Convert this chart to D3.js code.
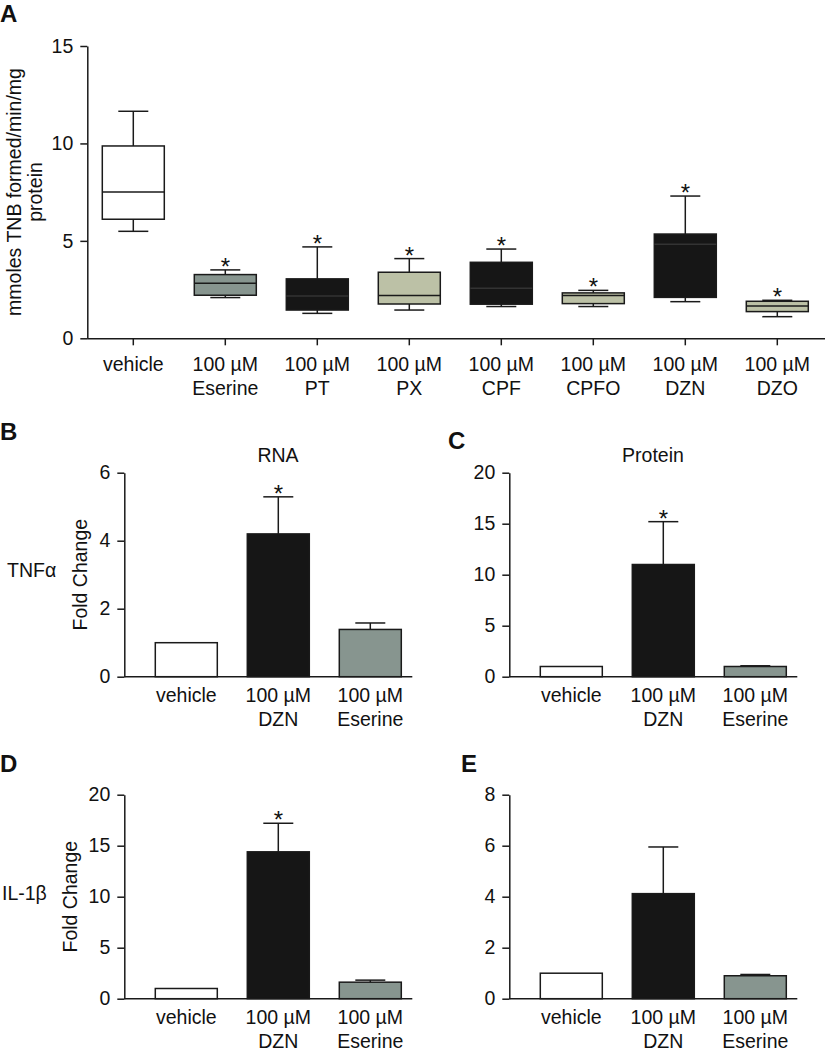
<!DOCTYPE html>
<meta charset="utf-8">
<html>
<head>
  <title>Esterase activity and cytokine fold change</title>
  <script src="https://d3js.org/d3.v7.min.js"></script>
  <style>
    body{margin:0;background:#fff;}
    text{font-family:"Liberation Sans",Arial,sans-serif;fill:#111;}
  </style>
</head>
<body>
<div id="chart"></div>
<script>
  var width=827, height=1052;

  // Panel A - box plots
  var boxGroups=["vehicle","Eserine","PT","PX","CPF","CPFO","DZN","DZO"];
  var boxMin   =[5.49,2.09,1.28,1.45,1.63,1.63,1.88,1.11];
  var boxQ1    =[6.11,2.21,1.45,1.76,1.75,1.78,2.10,1.37];
  var boxMedian=[7.51,2.82,2.17,2.19,2.57,2.19,4.82,1.66];
  var boxQ3    =[9.87,3.27,3.05,3.39,3.90,2.33,5.35,1.90];
  var boxMax   =[11.65,3.51,4.69,4.09,4.58,2.46,7.30,1.95];
  var boxSig   =[false,true,true,true,true,true,true,true];
  var boxTicks =[0,5,10,15];

  // Panels B-E - bar charts
  var barGroups=["vehicle","DZN","Eserine"];
  var tnfRnaMean=[1.0,4.2,1.39],   tnfRnaSem=[0,1.09,0.19],  tnfRnaSig=[false,true,false];
  var tnfProtMean=[1.0,11.0,1.0],  tnfProtSem=[0,4.2,0.07],  tnfProtSig=[false,true,false];
  var il1RnaMean=[1.0,14.4,1.62],  il1RnaSem=[0,2.8,0.2],    il1RnaSig=[false,true,false];
  var il1ProtMean=[1.0,4.12,0.9],  il1ProtSem=[0,1.83,0.05], il1ProtSig=[false,false,false];

  var white="#ffffff", gray="#87958f", beige="#bcc1a6", black="#161616";
  var fillOf={vehicle:white,Eserine:gray,PT:black,PX:beige,CPF:black,CPFO:beige,DZN:black,DZO:beige};
  var lineCol="#1a1a1a";

  var svg=d3.select("#chart").append("svg")
      .attr("width",width).attr("height",height);

  function panelLetter(t,x,y){
    svg.append("text").text(t).attr("x",x).attr("y",y)
      .style("font-size","24px").style("font-weight","bold");
  }
  function star(g,x,yTop){
    g.append("text").text("*").attr("x",x).attr("y",yTop+5)
      .attr("text-anchor","middle").style("font-size","24px");
  }
  function styleAxis(g){
    g.selectAll("path,line").attr("stroke",lineCol).attr("stroke-width",1.5);
    g.selectAll("text").style("font-size","19.5px").attr("fill","#111");
  }
  function groupLabel(g,x,y1,name){
    var t=g.append("text").attr("text-anchor","middle").style("font-size","19.5px");
    if(name=="vehicle"){
      t.append("tspan").attr("x",x).attr("y",y1).text("vehicle");
    }else{
      t.append("tspan").attr("x",x).attr("y",y1).text("100 \u00b5M");
      t.append("tspan").attr("x",x).attr("y",y1+24.5).text(name);
    }
  }

  // ---------- Panel A ----------
  panelLetter("A",0,22);
  var gA=svg.append("g");
  var yA=d3.scaleLinear().domain([0,15]).range([338.3,46]);
  var xA=d3.scaleBand().domain(boxGroups).range([87.3,823.3]);
  var boxW=62, capW=30;

  var axA=gA.append("g").attr("transform","translate(87.3,0)")
    .call(d3.axisLeft(yA).tickValues(boxTicks).tickSize(7).tickSizeOuter(0).tickPadding(7).tickFormat(d3.format("d")));
  styleAxis(axA);
  var axAx=gA.append("g").attr("transform","translate(0,338.3)")
    .call(d3.axisBottom(xA).tickSize(7).tickSizeOuter(0).tickFormat(""));
  styleAxis(axAx);
  axAx.select(".domain").attr("d","M87.3,0.5H825");

  boxGroups.forEach(function(name,i){
    var cx=xA(name)+xA.bandwidth()/2;
    var box=gA.append("g");
    box.append("line").attr("x1",cx).attr("x2",cx).attr("y1",yA(boxMax[i])).attr("y2",yA(boxQ3[i]));
    box.append("line").attr("x1",cx).attr("x2",cx).attr("y1",yA(boxMin[i])).attr("y2",yA(boxQ1[i]));
    box.append("line").attr("x1",cx-capW/2).attr("x2",cx+capW/2).attr("y1",yA(boxMax[i])).attr("y2",yA(boxMax[i]));
    box.append("line").attr("x1",cx-capW/2).attr("x2",cx+capW/2).attr("y1",yA(boxMin[i])).attr("y2",yA(boxMin[i]));
    box.selectAll("line").attr("stroke",lineCol).attr("stroke-width",1.5);
    box.append("rect").attr("x",cx-boxW/2).attr("width",boxW)
      .attr("y",yA(boxQ3[i])).attr("height",yA(boxQ1[i])-yA(boxQ3[i]))
      .attr("fill",fillOf[name]).attr("stroke",lineCol).attr("stroke-width",1.5);
    box.append("line").attr("x1",cx-boxW/2).attr("x2",cx+boxW/2)
      .attr("y1",yA(boxMedian[i])).attr("y2",yA(boxMedian[i]))
      .attr("stroke",fillOf[name]==black?"#333":lineCol).attr("stroke-width",1.5);
    if(boxSig[i]) star(gA,cx,yA(boxMax[i]));
    groupLabel(gA,cx,370.7,name);
  });

  gA.append("text").attr("transform","translate(21,192) rotate(-90)")
    .attr("text-anchor","middle").style("font-size","19.5px").text("mmoles TNB formed/min/mg");
  gA.append("text").attr("transform","translate(42,192) rotate(-90)")
    .attr("text-anchor","middle").style("font-size","19.5px").text("protein");

  // ---------- Bar panels ----------
  function barPanel(p){
    var g=svg.append("g");
    var y=d3.scaleLinear().domain([0,p.max]).range([p.yBottom,p.yTop]);
    var x=d3.scaleBand().domain(barGroups).range([p.x0+16,p.x0+16+276]);
    var barW=62;
    var ax=g.append("g").attr("transform","translate("+p.x0+",0)")
      .call(d3.axisLeft(y).tickValues(p.ticks).tickSize(7).tickSizeOuter(0).tickPadding(7).tickFormat(d3.format("d")));
    styleAxis(ax);
    g.append("line").attr("x1",p.x0).attr("x2",p.x0+288)
      .attr("y1",p.yBottom).attr("y2",p.yBottom)
      .attr("stroke",lineCol).attr("stroke-width",1.5);

    barGroups.forEach(function(name,i){
      var cx=x(name)+x.bandwidth()/2;
      var top=y(p.mean[i]+p.sem[i]);
      if(p.sem[i]>0){
        g.append("line").attr("x1",cx).attr("x2",cx).attr("y1",top).attr("y2",y(p.mean[i]))
          .attr("stroke",lineCol).attr("stroke-width",1.5);
        g.append("line").attr("x1",cx-15).attr("x2",cx+15).attr("y1",top).attr("y2",top)
          .attr("stroke",lineCol).attr("stroke-width",1.5);
      }
      g.append("rect").attr("x",cx-barW/2).attr("width",barW)
        .attr("y",y(p.mean[i])).attr("height",p.yBottom-y(p.mean[i]))
        .attr("fill",fillOf[name]).attr("stroke",lineCol).attr("stroke-width",1.5);
      if(p.sig[i]) star(g,cx,top);
      groupLabel(g,cx,p.yBottom+25,name);
    });

    if(p.title) g.append("text").text(p.title).attr("x",p.titleX).attr("y",462)
      .attr("text-anchor","middle").style("font-size","19.5px");
    if(p.yTitleX) g.append("text")
      .attr("transform","translate("+p.yTitleX+","+((p.yTop+p.yBottom)/2)+") rotate(-90)")
      .attr("text-anchor","middle").style("font-size","19.5px").text("Fold Change");
  }

  panelLetter("B",0,440);
  barPanel({x0:124.3,yTop:472.7,yBottom:676.7,max:6,ticks:[0,2,4,6],
    mean:tnfRnaMean,sem:tnfRnaSem,sig:tnfRnaSig,title:"RNA",titleX:278,yTitleX:87});
  panelLetter("C",448,449);
  barPanel({x0:509.3,yTop:472.7,yBottom:676.7,max:20,ticks:[0,5,10,15,20],
    mean:tnfProtMean,sem:tnfProtSem,sig:tnfProtSig,title:"Protein",titleX:653});
  panelLetter("D",0,772);
  barPanel({x0:124.3,yTop:794.7,yBottom:998.7,max:20,ticks:[0,5,10,15,20],
    mean:il1RnaMean,sem:il1RnaSem,sig:il1RnaSig,yTitleX:77});
  panelLetter("E",461,772);
  barPanel({x0:509.3,yTop:794.7,yBottom:998.7,max:8,ticks:[0,2,4,6,8],
    mean:il1ProtMean,sem:il1ProtSem,sig:il1ProtSig});

  svg.append("text").text("TNF\u03b1").attr("x",7).attr("y",576.5).style("font-size","19.5px");
  svg.append("text").text("IL-1\u03b2").attr("x",2).attr("y",900).style("font-size","19.5px");
</script>
</body>
</html>
